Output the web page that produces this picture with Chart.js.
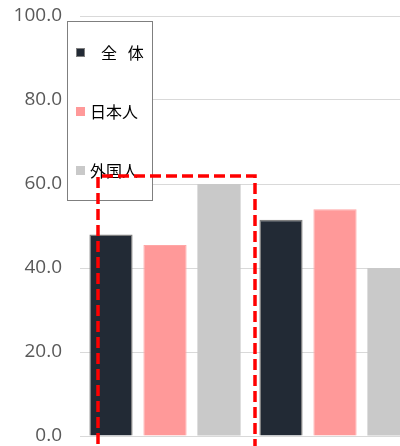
<!DOCTYPE html>
<html><head><meta charset="utf-8">
<script src="https://cdn.jsdelivr.net/npm/chart.js@4.4.1/dist/chart.umd.min.js"></script>
<style>
html,body{margin:0;padding:0;background:#fff;overflow:hidden;width:400px;height:446px;}
#wrap{position:relative;width:420px;height:446px;}
</style></head>
<body>
<div id="wrap"><canvas id="c" width="420" height="446"></canvas></div>
<script>
const categories = ["A", "B"];
const seriesNames = ["全   体", "日本人", "外国人"];
const zentai = [48.0, 51.5];
const nihonjin = [45.5, 54.0];
const gaikokujin = [60.0, 40.0];
const yTicks = [0, 20, 40, 60, 80, 100];

const colors = ["#222a35", "#ff9999", "#c9c9c9"];
const borders = ["#7f7f7f", "#ffa6a6", "#c9c9c9"];

const legendPlugin = {
  id: 'boxLegend',
  afterDatasetsDraw(chart) {
    const ctx = chart.ctx;
    ctx.save();
    ctx.fillStyle = '#ffffff';
    ctx.fillRect(67.5, 21.5, 85, 179);
    ctx.strokeStyle = '#7f7f7f';
    ctx.lineWidth = 1;
    ctx.strokeRect(67.5, 21.5, 85, 179);
    const ys = [52, 111, 170];
    ctx.textBaseline = 'middle';
    ctx.textAlign = 'left';
    ctx.font = '16px "Noto Sans CJK JP"';
    seriesNames.forEach((n, i) => {
      ctx.fillStyle = colors[i];
      ctx.fillRect(76, ys[i] - 4, 9, 9);
      if (i === 0) { ctx.strokeStyle = '#7f7f7f'; ctx.strokeRect(76.5, ys[i] - 3.5, 8, 8); }
      ctx.fillStyle = '#000000';
      ctx.fillText(n, i === 0 ? 101 : 90, ys[i] + 1);
    });
    ctx.strokeStyle = '#ff0000';
    ctx.lineWidth = 3.5;
    ctx.setLineDash([11, 5]);
    ctx.beginPath();
    ctx.moveTo(98, 460);
    ctx.lineTo(98, 176);
    ctx.lineTo(255, 176);
    ctx.lineTo(255, 460);
    ctx.stroke();
    ctx.restore();
  }
};

new Chart(document.getElementById('c'), {
  type: 'bar',
  data: {
    labels: categories,
    datasets: [
      {label: seriesNames[0], data: zentai, backgroundColor: colors[0], borderColor: borders[0], borderWidth: 1.5},
      {label: seriesNames[1], data: nihonjin, backgroundColor: colors[1], borderColor: borders[1], borderWidth: 1},
      {label: seriesNames[2], data: gaikokujin, backgroundColor: colors[2], borderColor: borders[2], borderWidth: 0}
    ]
  },
  options: {
    responsive: false,
    animation: false,
    devicePixelRatio: 1,
    layout: {padding: {top: 16, bottom: 10, left: 0, right: 0}},
    plugins: {legend: {display: false}, tooltip: {enabled: false}},
    datasets: {bar: {barPercentage: 0.8, categoryPercentage: 0.953}},
    scales: {
      x: {display: false},
      y: {
        min: 0, max: 100,
        afterFit(s) { s.width = 80; s.paddingTop = 0; s.paddingBottom = 0; },
        afterBuildTicks(s) { s.ticks = yTicks.map(v => ({value: v})); },
        border: {display: false},
        grid: {color: '#d9d9d9', lineWidth: 1, drawTicks: false},
        ticks: {
          padding: 18,
          color: '#595959',
          font: {family: '"Open Sans"', size: 19},
          callback: v => Number(v).toFixed(1)
        }
      }
    }
  },
  plugins: [legendPlugin]
});
</script>
</body></html>
